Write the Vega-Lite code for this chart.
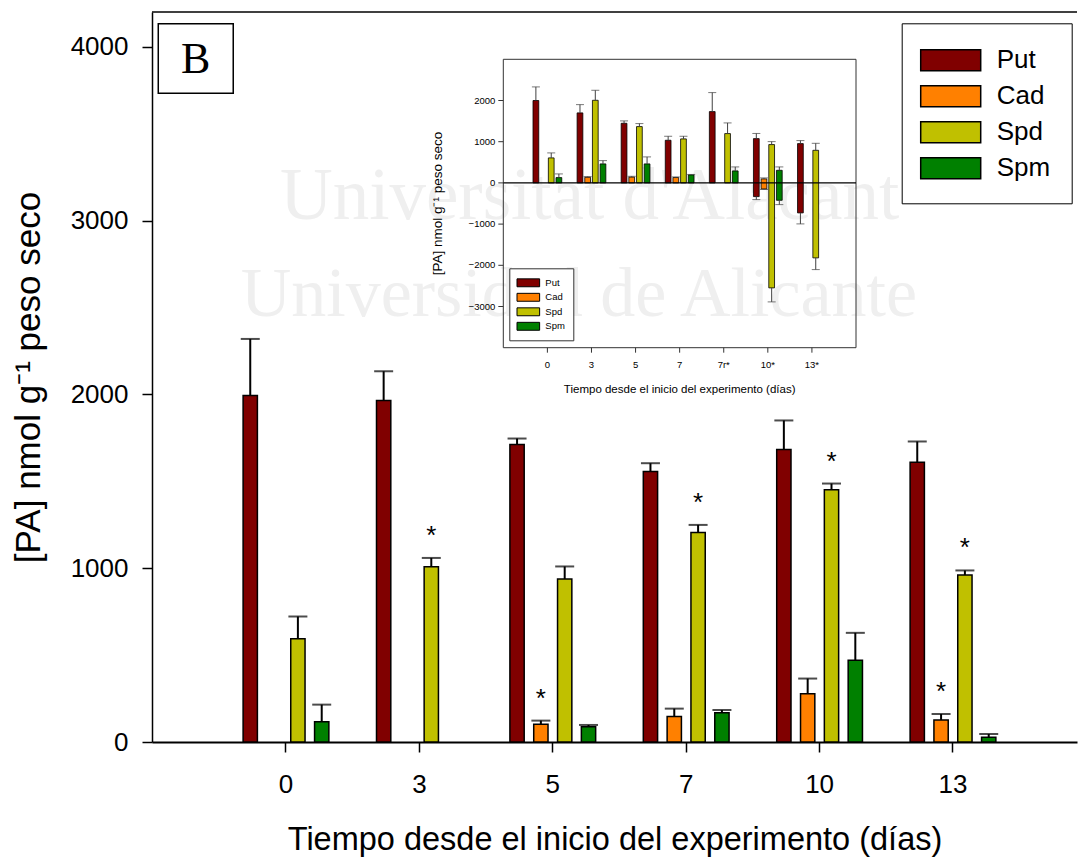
{
  "$schema": "https://vega.github.io/schema/vega-lite/v6.json",
  "width": 925,
  "height": 730,
  "autosize": {"type": "none"},
  "padding": {"left": 152, "top": 12, "right": 1, "bottom": 120},
  "config": {"view": {"stroke": null}, "font": "Liberation Sans"},
  "layer": [
    {
      "data": {"values": [{}]},
      "layer": [
        {
          "mark": {"type": "text", "text": "Universitat d'Alacant", "font": "Liberation Serif", "fontSize": 73, "color": "#efefef", "align": "center", "baseline": "alphabetic"},
          "encoding": {
            "x": {"datum": 2.28, "type": "quantitative", "scale": {"domain": [-1, 5.934], "nice": false, "zero": false}, "axis": null},
            "y": {"datum": 3010, "type": "quantitative", "scale": {"domain": [0, 4200], "nice": false, "zero": false}, "axis": null}
          }
        },
        {
          "mark": {"type": "text", "text": "Universidad de Alicante", "font": "Liberation Serif", "fontSize": 70, "color": "#efefef", "align": "center", "baseline": "alphabetic"},
          "encoding": {"x": {"datum": 2.2}, "y": {"datum": 2450}}
        },
        {
          "mark": {"type": "rule", "color": "black", "strokeWidth": 1.5},
          "encoding": {"x": {"datum": -1}, "x2": {"datum": 5.934}, "y": {"datum": 4200}}
        },
        {
          "mark": {"type": "rect", "fill": "white", "stroke": "black", "strokeWidth": 1.5},
          "encoding": {"x": {"datum": -0.953}, "x2": {"datum": -0.391}, "y": {"datum": 4132}, "y2": {"datum": 3733}}
        },
        {
          "mark": {"type": "text", "text": "B", "font": "Liberation Serif", "fontSize": 44, "align": "center", "baseline": "middle", "color": "black"},
          "encoding": {"x": {"datum": -0.672}, "y": {"datum": 3925}}
        }
      ]
    },
    {
      "data": {"values": [
        {"t": "0", "s": "Put", "v": 1994, "e": 2319, "sig": false},
        {"t": "0", "s": "Spd", "v": 594, "e": 722, "sig": false},
        {"t": "0", "s": "Spm", "v": 117, "e": 215, "sig": false},
        {"t": "3", "s": "Put", "v": 1965, "e": 2133, "sig": false},
        {"t": "3", "s": "Spd", "v": 1009, "e": 1059, "sig": true},
        {"t": "5", "s": "Put", "v": 1712, "e": 1746, "sig": false},
        {"t": "5", "s": "Cad", "v": 102, "e": 123, "sig": true},
        {"t": "5", "s": "Spd", "v": 938, "e": 1010, "sig": false},
        {"t": "5", "s": "Spm", "v": 88, "e": 98, "sig": false},
        {"t": "7", "s": "Put", "v": 1556, "e": 1604, "sig": false},
        {"t": "7", "s": "Cad", "v": 146, "e": 192, "sig": false},
        {"t": "7", "s": "Spd", "v": 1205, "e": 1249, "sig": true},
        {"t": "7", "s": "Spm", "v": 169, "e": 184, "sig": false},
        {"t": "10", "s": "Put", "v": 1683, "e": 1850, "sig": false},
        {"t": "10", "s": "Cad", "v": 278, "e": 365, "sig": false},
        {"t": "10", "s": "Spd", "v": 1452, "e": 1487, "sig": true},
        {"t": "10", "s": "Spm", "v": 471, "e": 628, "sig": false},
        {"t": "13", "s": "Put", "v": 1610, "e": 1729, "sig": false},
        {"t": "13", "s": "Cad", "v": 127, "e": 161, "sig": true},
        {"t": "13", "s": "Spd", "v": 961, "e": 987, "sig": true},
        {"t": "13", "s": "Spm", "v": 27, "e": 46, "sig": false}
      ]},
      "layer": [
        {
          "mark": {"type": "bar", "stroke": "black", "strokeWidth": 1.5},
          "encoding": {
            "x": {
              "field": "t", "type": "nominal", "sort": null,
              "scale": {"domain": ["0", "3", "5", "7", "10", "13"], "paddingInner": 0, "paddingOuter": 0.467, "align": 0.54},
              "title": "Tiempo desde el inicio del experimento (días)",
              "axis": {"orient": "bottom", "labelAngle": 0, "labelFontSize": 26, "labelColor": "black", "labelPadding": 19, "tickSize": 10, "tickColor": "black", "tickWidth": 1.5, "domainColor": "black", "domainWidth": 2, "titleFontSize": 32.5, "titleFontWeight": "normal", "titleColor": "black", "titlePadding": 26, "grid": false}
            },
            "xOffset": {"field": "s", "type": "nominal", "scale": {"domain": ["Put", "Cad", "Spd", "Spm"], "paddingInner": 0.4, "paddingOuter": 1.535}},
            "y": {
              "field": "v", "type": "quantitative", "stack": null,
              "scale": {"domain": [0, 4200], "nice": false},
              "title": "[PA] nmol g⁻¹ peso seco",
              "axis": {"orient": "left", "values": [0, 1000, 2000, 3000, 4000], "format": "d", "labelFontSize": 26, "labelColor": "black", "labelPadding": 14, "tickSize": 10, "tickColor": "black", "tickWidth": 1.5, "domainColor": "black", "domainWidth": 1.5, "grid": false, "titleFontSize": 35, "titleFontWeight": "normal", "titleColor": "black", "titlePadding": 24}
            },
            "color": {
              "field": "s", "type": "nominal",
              "scale": {"domain": ["Put", "Cad", "Spd", "Spm"], "range": ["#800000", "#ff8000", "#c0c000", "#008000"]},
              "legend": {"orient": "none", "legendX": 749.7, "legendY": 11.3, "title": null, "symbolType": "M-1.2,-0.7H2.8V0.7H-1.2Z", "symbolSize": 900, "symbolStrokeColor": "black", "symbolStrokeWidth": 1.5, "symbolOpacity": 1, "labelFontSize": 26, "labelColor": "black", "labelOffset": 42, "rowPadding": 6, "padding": 21, "strokeColor": "black", "fillColor": "white"}
            }
          }
        },
        {
          "mark": {"type": "rule", "color": "black", "strokeWidth": 2},
          "encoding": {
            "x": {"field": "t", "type": "nominal"},
            "xOffset": {"field": "s", "type": "nominal"},
            "y": {"field": "v", "type": "quantitative"},
            "y2": {"field": "e"}
          }
        },
        {
          "mark": {"type": "tick", "color": "black", "thickness": 2, "size": 19, "orient": "horizontal"},
          "encoding": {
            "x": {"field": "t", "type": "nominal"},
            "xOffset": {"field": "s", "type": "nominal"},
            "y": {"field": "e", "type": "quantitative"}
          }
        },
        {
          "transform": [{"filter": "datum.sig"}],
          "mark": {"type": "text", "text": "*", "fontSize": 26, "dy": -14, "baseline": "alphabetic", "align": "center", "color": "black"},
          "encoding": {
            "x": {"field": "t", "type": "nominal"},
            "xOffset": {"field": "s", "type": "nominal"},
            "y": {"field": "e", "type": "quantitative"}
          }
        }
      ]
    },
    {
      "data": {"values": [
        {"t": "0", "s": "Put", "hi": 2000, "lo": 0, "ehi": 2330, "elo": null},
        {"t": "0", "s": "Spd", "hi": 607, "lo": 0, "ehi": 728, "elo": null},
        {"t": "0", "s": "Spm", "hi": 129, "lo": 0, "ehi": 218, "elo": null},
        {"t": "3", "s": "Put", "hi": 1699, "lo": 0, "ehi": 1900, "elo": null},
        {"t": "3", "s": "Cad", "hi": 136, "lo": 0, "ehi": 153, "elo": null},
        {"t": "3", "s": "Spd", "hi": 2005, "lo": 0, "ehi": 2248, "elo": null},
        {"t": "3", "s": "Spm", "hi": 461, "lo": 0, "ehi": 541, "elo": null},
        {"t": "5", "s": "Put", "hi": 1447, "lo": 0, "ehi": 1505, "elo": null},
        {"t": "5", "s": "Cad", "hi": 140, "lo": 0, "ehi": 160, "elo": null},
        {"t": "5", "s": "Spd", "hi": 1367, "lo": 0, "ehi": 1440, "elo": null},
        {"t": "5", "s": "Spm", "hi": 461, "lo": 0, "ehi": 631, "elo": null},
        {"t": "7", "s": "Put", "hi": 1035, "lo": 0, "ehi": 1132, "elo": null},
        {"t": "7", "s": "Cad", "hi": 130, "lo": 0, "ehi": 145, "elo": null},
        {"t": "7", "s": "Spd", "hi": 1068, "lo": 0, "ehi": 1132, "elo": null},
        {"t": "7", "s": "Spm", "hi": 194, "lo": 0, "ehi": 205, "elo": null},
        {"t": "7r*", "s": "Put", "hi": 1731, "lo": 0, "ehi": 2192, "elo": null},
        {"t": "7r*", "s": "Spd", "hi": 1197, "lo": 0, "ehi": 1456, "elo": null},
        {"t": "7r*", "s": "Spm", "hi": 291, "lo": 0, "ehi": 388, "elo": null},
        {"t": "10*", "s": "Put", "hi": 1075, "lo": -333, "ehi": 1200, "elo": -405},
        {"t": "10*", "s": "Cad", "hi": 97, "lo": -146, "ehi": 121, "elo": -160},
        {"t": "10*", "s": "Spd", "hi": 930, "lo": -2548, "ehi": 1002, "elo": -2888},
        {"t": "10*", "s": "Spm", "hi": 306, "lo": -422, "ehi": 388, "elo": -527},
        {"t": "13*", "s": "Put", "hi": 954, "lo": -728, "ehi": 1027, "elo": -995},
        {"t": "13*", "s": "Spd", "hi": 791, "lo": -1820, "ehi": 961, "elo": -2104}
      ]},
      "layer": [
        {
          "mark": {"type": "bar", "stroke": "black", "strokeWidth": 0.8},
          "encoding": {
            "x": {"field": "t", "type": "nominal", "sort": null, "axis": null,
              "scale": {"domain": ["0", "3", "5", "7", "7r*", "10*", "13*"], "range": [351.3, 704], "paddingInner": 0, "paddingOuter": 0.5, "align": 0.5}},
            "xOffset": {"field": "s", "type": "nominal", "scale": {"domain": ["Put", "Cad", "Spd", "Spm"], "paddingInner": 0.25, "paddingOuter": 1.43}},
            "y": {"field": "hi", "type": "quantitative", "stack": null, "axis": null,
              "scale": {"domain": [-4000, 3000], "range": [335.7, 47.3], "nice": false, "zero": false}},
            "y2": {"field": "lo"},
            "color": {
              "field": "s", "type": "nominal",
              "scale": {"domain": ["Put", "Cad", "Spd", "Spm"], "range": ["#800000", "#ff8000", "#c0c000", "#008000"]},
              "legend": {"orient": "none", "legendX": 357.3, "legendY": 256.3, "title": null, "symbolType": "M-1.2,-0.7H2.8V0.7H-1.2Z", "symbolSize": 128, "symbolStrokeColor": "black", "symbolStrokeWidth": 1, "symbolOpacity": 1, "labelFontSize": 9.5, "labelColor": "black", "labelOffset": 15, "rowPadding": 1.5, "padding": 8, "strokeColor": "#333333", "fillColor": "white"}
            }
          }
        },
        {
          "mark": {"type": "rule", "color": "#404040", "strokeWidth": 1},
          "encoding": {
            "x": {"field": "t", "type": "nominal"},
            "xOffset": {"field": "s", "type": "nominal"},
            "y": {"field": "hi", "type": "quantitative"},
            "y2": {"field": "ehi"}
          }
        },
        {
          "mark": {"type": "tick", "color": "#404040", "thickness": 1, "size": 8, "orient": "horizontal"},
          "encoding": {
            "x": {"field": "t", "type": "nominal"},
            "xOffset": {"field": "s", "type": "nominal"},
            "y": {"field": "ehi", "type": "quantitative"}
          }
        },
        {
          "transform": [{"filter": "datum.elo != null"}],
          "layer": [
            {
              "mark": {"type": "rule", "color": "#404040", "strokeWidth": 1},
              "encoding": {
                "x": {"field": "t", "type": "nominal"},
                "xOffset": {"field": "s", "type": "nominal"},
                "y": {"field": "lo", "type": "quantitative"},
                "y2": {"field": "elo"}
              }
            },
            {
              "mark": {"type": "tick", "color": "#404040", "thickness": 1, "size": 8, "orient": "horizontal"},
              "encoding": {
                "x": {"field": "t", "type": "nominal"},
                "xOffset": {"field": "s", "type": "nominal"},
                "y": {"field": "elo", "type": "quantitative"}
              }
            }
          ]
        },
        {
          "data": {"values": [{"t": "0"}, {"t": "3"}, {"t": "5"}, {"t": "7"}, {"t": "7r*"}, {"t": "10*"}, {"t": "13*"}]},
          "layer": [
            {
              "mark": {"type": "rule", "color": "#333333", "strokeWidth": 1},
              "encoding": {"x": {"field": "t", "type": "nominal"}, "y": {"datum": -4000}, "y2": {"datum": -4121}}
            },
            {
              "mark": {"type": "text", "fontSize": 9.5, "color": "black", "align": "center", "baseline": "middle", "dy": 17.5},
              "encoding": {"x": {"field": "t", "type": "nominal"}, "y": {"datum": -4000}, "text": {"field": "t"}}
            }
          ]
        }
      ]
    },
    {
      "data": {"values": [{"v": -3000}, {"v": -2000}, {"v": -1000}, {"v": 0}, {"v": 1000}, {"v": 2000}]},
      "layer": [
        {
          "data": {"values": [{}]},
          "mark": {"type": "rect", "fillOpacity": 0, "stroke": "#333333", "strokeWidth": 1},
          "encoding": {
            "x": {"datum": -1, "type": "quantitative", "axis": null, "scale": {"domain": [-1, 7], "range": [351.3, 704], "nice": false, "zero": false}},
            "x2": {"datum": 7},
            "y": {"datum": -4000, "type": "quantitative", "axis": null, "scale": {"domain": [-4000, 3000], "range": [335.7, 47.3], "nice": false, "zero": false}},
            "y2": {"datum": 3000}
          }
        },
        {
          "data": {"values": [{}]},
          "mark": {"type": "rule", "color": "black", "strokeWidth": 1.2},
          "encoding": {"x": {"datum": -1}, "x2": {"datum": 7}, "y": {"datum": 0}}
        },
        {
          "mark": {"type": "rule", "color": "#333333", "strokeWidth": 1},
          "encoding": {"x": {"datum": -1}, "x2": {"datum": -1.113}, "y": {"field": "v", "type": "quantitative"}}
        },
        {
          "mark": {"type": "text", "fontSize": 9.5, "color": "black", "align": "right", "baseline": "middle", "dx": -8},
          "encoding": {"x": {"datum": -1}, "y": {"field": "v", "type": "quantitative"}, "text": {"field": "v", "type": "quantitative", "format": "d"}}
        },
        {
          "data": {"values": [{}]},
          "mark": {"type": "text", "text": "Tiempo desde el inicio del experimento (días)", "fontSize": 11.5, "color": "black", "align": "center", "baseline": "middle", "dy": 42},
          "encoding": {"x": {"datum": 3}, "y": {"datum": -4000}}
        },
        {
          "data": {"values": [{}]},
          "mark": {"type": "text", "text": "[PA] nmol g⁻¹ peso seco", "fontSize": 13.5, "color": "black", "align": "center", "baseline": "middle", "angle": 270},
          "encoding": {"x": {"datum": -2.48}, "y": {"datum": -500}}
        }
      ]
    }
  ],
  "resolve": {
    "scale": {"x": "independent", "y": "independent", "xOffset": "independent", "color": "independent"},
    "axis": {"x": "independent", "y": "independent"},
    "legend": {"color": "independent"}
  }
}
